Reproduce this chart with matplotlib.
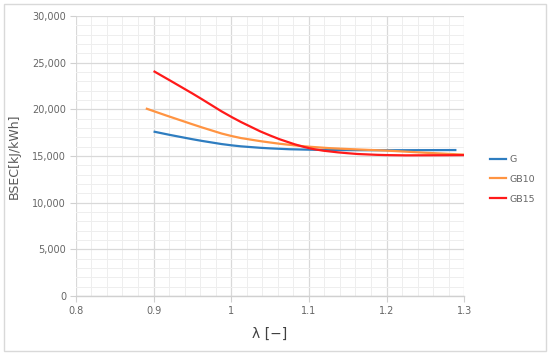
import numpy as np
import matplotlib
matplotlib.use("Agg")
import matplotlib.pyplot as plt
from matplotlib.path import Path
from matplotlib.patches import PathPatch, Rectangle
from matplotlib.lines import Line2D
from matplotlib.ticker import MultipleLocator, FuncFormatter

# ---- data ----
lam_G = [0.9, 0.95, 1.0, 1.05, 1.1, 1.15, 1.2, 1.25, 1.29]
bsec_G = [17620, 16800, 16150, 15820, 15680, 15630, 15620, 15630, 15640]

lam_GB10 = [0.89, 0.95, 1.0, 1.05, 1.1, 1.15, 1.2, 1.25, 1.3]
bsec_GB10 = [20100, 18400, 17150, 16450, 16000, 15750, 15580, 15350, 15150]

lam_GB15 = [0.9, 0.95, 1.0, 1.05, 1.1, 1.15, 1.2, 1.25, 1.3]
bsec_GB15 = [24100, 21700, 19200, 17200, 15850, 15300, 15100, 15080, 15100]

series_names = ["G", "GB10", "GB15"]
colors = ["#2E7DC0", "#FF9442", "#FF1A1A"]

x_ticks = [0.8, 0.9, 1.0, 1.1, 1.2, 1.3]
x_ticklabels = ["0.8", "0.9", "1", "1.1", "1.2", "1.3"]


def smooth_path(x, y):
    """Excel-like smooth line: Catmull-Rom converted to cubic Bezier segments."""
    x = np.asarray(x, float)
    y = np.asarray(y, float)
    pts = np.column_stack([x, y])
    n = len(pts)
    verts = [pts[0]]
    codes = [Path.MOVETO]
    for i in range(n - 1):
        p0 = pts[i - 1] if i > 0 else pts[i]
        p1 = pts[i]
        p2 = pts[i + 1]
        p3 = pts[i + 2] if i + 2 < n else pts[i + 1]
        c1 = p1 + (p2 - p0) / 6.0
        c2 = p2 - (p3 - p1) / 6.0
        verts += [c1, c2, p2]
        codes += [Path.CURVE4] * 3
    return Path(verts, codes)


fig = plt.figure(figsize=(5.5, 3.55), dpi=100)
ax = fig.add_axes([0.138, 0.166, 0.706, 0.789])

ax.set_xlim(0.8, 1.3)
ax.set_ylim(0, 30000)

ax.xaxis.set_major_locator(MultipleLocator(0.1))
ax.xaxis.set_minor_locator(MultipleLocator(0.02))
ax.yaxis.set_major_locator(MultipleLocator(5000))
ax.yaxis.set_minor_locator(MultipleLocator(1000))
ax.set_xticks(x_ticks)
ax.set_xticklabels(x_ticklabels)
ax.yaxis.set_major_formatter(FuncFormatter(lambda v, p: f"{int(v):,}"))

ax.grid(which="major", color="#d9d9d9", lw=0.9)
ax.grid(which="minor", color="#eeeeee", lw=0.7)
ax.set_axisbelow(True)

for s in ["top", "right", "left"]:
    ax.spines[s].set_visible(False)
ax.spines["bottom"].set_color("#d0d0d0")
ax.spines["bottom"].set_linewidth(1.0)

ax.tick_params(which="major", length=4, color="#d0d0d0", labelsize=7,
               labelcolor="#666666", pad=3)
ax.tick_params(which="minor", length=0)

data = [(lam_G, bsec_G), (lam_GB10, bsec_GB10), (lam_GB15, bsec_GB15)]
handles = []
for (xs, ys), name, c in zip(data, series_names, colors):
    patch = PathPatch(smooth_path(xs, ys), transform=ax.transData,
                      facecolor="none", edgecolor=c, lw=1.6, zorder=3)
    ax.add_patch(patch)
    handles.append(Line2D([], [], color=c, lw=1.6, label=name))

ax.set_ylabel("BSEC[kJ/kWh]", fontsize=9, color="#595959", labelpad=8)
ax.set_xlabel("λ [−]", fontsize=10, color="#404040", labelpad=8)

leg = fig.legend(handles=handles, loc="center left", bbox_to_anchor=(0.876, 0.495),
                 frameon=False, fontsize=6.8, handlelength=1.7, handletextpad=0.3,
                 labelspacing=1.15)
for t in leg.get_texts():
    t.set_color("#666666")

fig.patches.append(Rectangle((0.008, 0.012), 0.984, 0.976, transform=fig.transFigure,
                             fill=False, edgecolor="#d9d9d9", lw=1.0))

fig.savefig("out.png", dpi=100)
